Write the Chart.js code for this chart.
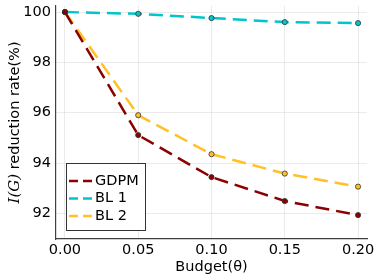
<!DOCTYPE html>
<html>
<head>
<meta charset="utf-8">
<script src="https://cdn.jsdelivr.net/npm/chart.js@4"></script>
<style>
  html, body { margin: 0; padding: 0; background: #fff; }
  #wrap { width: 374px; height: 280px; position: relative; }
</style>
</head>
<body>
<div id="wrap"><canvas id="reduction-chart"></canvas></div>
<script>
const budgets = [0.00, 0.05, 0.10, 0.15, 0.20];
const gdpmValues = [100, 95.11, 93.44, 92.49, 91.93];
const bl1Values = [100, 99.93, 99.76, 99.60, 99.56];
const bl2Values = [100, 95.90, 94.35, 93.58, 93.06];
const xTickValues = [0.00, 0.05, 0.10, 0.15, 0.20];
const yTickValues = [92, 94, 96, 98, 100];
const seriesNames = ['GDPM', 'BL 1', 'BL 2'];

const FONT = '"DejaVu Sans", sans-serif';
const colors = {
    gdpm: '#8b0000',
    bl1: '#00c5cd',
    bl2: '#ffc125',
    axis: '#404040',
    grid: 'rgba(0,0,0,0.08)'
};

function toPoints(values) {
    return budgets.map((b, i) => ({ x: b, y: values[i] }));
}

function makeDataset(label, values, color) {
    return {
        label: label,
        data: toPoints(values),
        borderColor: color,
        backgroundColor: color,
        borderWidth: 2.5,
        borderDash: [14, 7],
        pointRadius: 2.6,
        pointBorderColor: '#333',
        pointBorderWidth: 0.8,
        pointBackgroundColor: color,
        tension: 0
    };
}

/**
 * Legend box drawn inside the plot, bottom left
 */
const insideLegend = {
    id: 'insideLegend',
    afterDraw: function(chart) {
        const ctx = chart.ctx;
        const x = 66, y = 163, w = 79, h = 67;
        ctx.save();
        ctx.fillStyle = '#fff';
        ctx.fillRect(x, y, w, h);
        ctx.strokeStyle = '#333';
        ctx.lineWidth = 1;
        ctx.strokeRect(x + 0.5, y + 0.5, w, h);
        ctx.font = '14.5px ' + FONT;
        ctx.textBaseline = 'middle';
        chart.data.datasets.forEach((ds, i) => {
            const ly = y + 18 + i * 17.5;
            ctx.strokeStyle = ds.borderColor;
            ctx.lineWidth = 2.5;
            ctx.setLineDash([9, 5]);
            ctx.beginPath();
            ctx.moveTo(69, ly);
            ctx.lineTo(94, ly);
            ctx.stroke();
            ctx.setLineDash([]);
            ctx.fillStyle = '#000';
            ctx.fillText(ds.label, 95, ly);
        });
        ctx.restore();
    }
};

/**
 * Y axis title with the italic I(G) part
 */
const yTitle = {
    id: 'yTitle',
    afterDraw: function(chart) {
        const ctx = chart.ctx;
        const area = chart.chartArea;
        const partA = 'I(G)';
        const partB = ' reduction rate(%)';
        ctx.save();
        ctx.translate(15, (area.top + area.bottom) / 2);
        ctx.rotate(-Math.PI / 2);
        ctx.textBaseline = 'middle';
        ctx.fillStyle = '#000';
        const fontA = 'italic 15px "DejaVu Serif", serif';
        const fontB = '14.5px ' + FONT;
        ctx.font = fontA;
        const wA = ctx.measureText(partA).width;
        ctx.font = fontB;
        const wB = ctx.measureText(partB).width;
        let start = -(wA + wB) / 2;
        ctx.font = fontA;
        ctx.fillText(partA, start, 0);
        ctx.font = fontB;
        ctx.fillText(partB, start + wA, 0);
        ctx.restore();
    }
};

const ReductionChart = {
    chart: null,

    init: function() {
        Chart.defaults.font.family = FONT;
        Chart.defaults.color = '#000';
        this.createChart();
    },

    createChart: function() {
        const ctx = document.getElementById('reduction-chart');
        this.chart = new Chart(ctx, {
            type: 'line',
            data: {
                datasets: [
                    makeDataset(seriesNames[0], gdpmValues, colors.gdpm),
                    makeDataset(seriesNames[1], bl1Values, colors.bl1),
                    makeDataset(seriesNames[2], bl2Values, colors.bl2)
                ]
            },
            options: {
                responsive: true,
                maintainAspectRatio: false,
                animation: false,
                layout: { padding: { top: 6, right: 7, left: 0, bottom: 0 } },
                plugins: {
                    legend: { display: false },
                    tooltip: { enabled: false }
                },
                scales: {
                    x: {
                        type: 'linear',
                        min: -0.0061,
                        max: 0.2061,
                        afterBuildTicks: axis => {
                            axis.ticks = xTickValues.map(v => ({ value: v }));
                        },
                        afterFit: axis => {
                            axis.height = 41;
                            axis.paddingLeft = 0;
                            axis.paddingRight = 0;
                        },
                        ticks: {
                            font: { size: 14.5 },
                            padding: 3,
                            callback: v => v.toFixed(2)
                        },
                        grid: { color: colors.grid, tickLength: 0 },
                        border: { color: colors.axis, width: 1.2 },
                        title: {
                            display: true,
                            text: 'Budget(θ)',
                            font: { size: 14.5 },
                            padding: { top: 1, bottom: 4 }
                        }
                    },
                    y: {
                        min: 90.98,
                        max: 100.24,
                        afterBuildTicks: axis => {
                            axis.ticks = yTickValues.map(v => ({ value: v }));
                        },
                        afterFit: axis => {
                            axis.width = 56;
                            axis.paddingTop = 0;
                            axis.paddingBottom = 0;
                        },
                        ticks: {
                            font: { size: 14.5 },
                            padding: 5,
                            callback: v => String(v)
                        },
                        grid: { color: colors.grid, tickLength: 0 },
                        border: { color: colors.axis, width: 1.2 }
                    }
                }
            },
            plugins: [insideLegend, yTitle]
        });
    }
};

ReductionChart.init();
</script>
</body>
</html>
